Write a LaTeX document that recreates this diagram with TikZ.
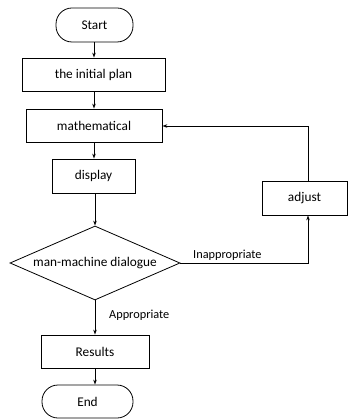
\documentclass[tikz,border=0pt]{standalone}
\usepackage{fontspec}
\setmainfont{Carlito}
\usetikzlibrary{shapes.geometric,arrows.meta}
\begin{document}
\begin{tikzpicture}[x=1pt,y=-1pt,
  every node/.style={font=\fontsize{13.3}{15}\selectfont},
  box/.style={draw,line width=0.8pt,minimum height=34pt,inner sep=0pt},
  term/.style={draw,line width=0.8pt,rounded corners=16pt,minimum height=34pt,inner sep=0pt},
  decision/.style={draw,line width=0.8pt,diamond,aspect=2.3,inner sep=0pt,minimum width=170pt,minimum height=74pt},
  conn/.style={line width=0.8pt,-{Stealth[length=5pt,width=3.5pt]}},
  lbl/.style={font=\fontsize{12.3}{14}\selectfont,inner sep=0pt}]
\useasboundingbox (0,0) rectangle (348,419);
\node[term,minimum width=77pt] (start) at (94.5,25) {Start};
\node[box,minimum width=143pt,minimum height=33pt] (plan) at (93.5,74.5) {the initial plan};
\node[box,minimum width=136pt,minimum height=33pt] (math) at (94,125.5) {mathematical};
\node[box,minimum width=83pt] (disp) at (93.5,176) {display};
\node[decision] (dlg) at (95,263) {man-machine dialogue};
\node[box,minimum width=85pt] (adj) at (304.5,198) {adjust};
\node[box,minimum width=108pt,minimum height=33pt] (res) at (95,351.5) {Results};
\node[term,minimum width=91pt,minimum height=33pt] (end) at (87.5,401.5) {End};
\coordinate (c1) at (308,263);
\coordinate (c2) at (308,126);
\draw[conn] (start.south -| 94,0) -- (plan.north -| 94,0);
\draw[conn] (plan.south -| 94,0) -- (math.north -| 94,0);
\draw[conn] (math.south -| 94,0) -- (disp.north -| 94,0);
\draw[conn] (disp.south -| 95,0) -- (dlg.north);
\draw[conn] (dlg.south) -- (res.north -| 95,0);
\draw[conn] (res.south -| 95,0) -- (end.north -| 95,0);
\draw[conn] (dlg.east) -- (c1) -- (adj.south -| c1);
\draw[conn] (adj.north -| c1) -- (c2) -- (math.east |- c2);
\node[lbl,anchor=west] (lapp) at (109,315) {Appropriate};
\node[lbl,anchor=west] (linapp) at (193,255) {Inappropriate};
\end{tikzpicture}
\end{document}
